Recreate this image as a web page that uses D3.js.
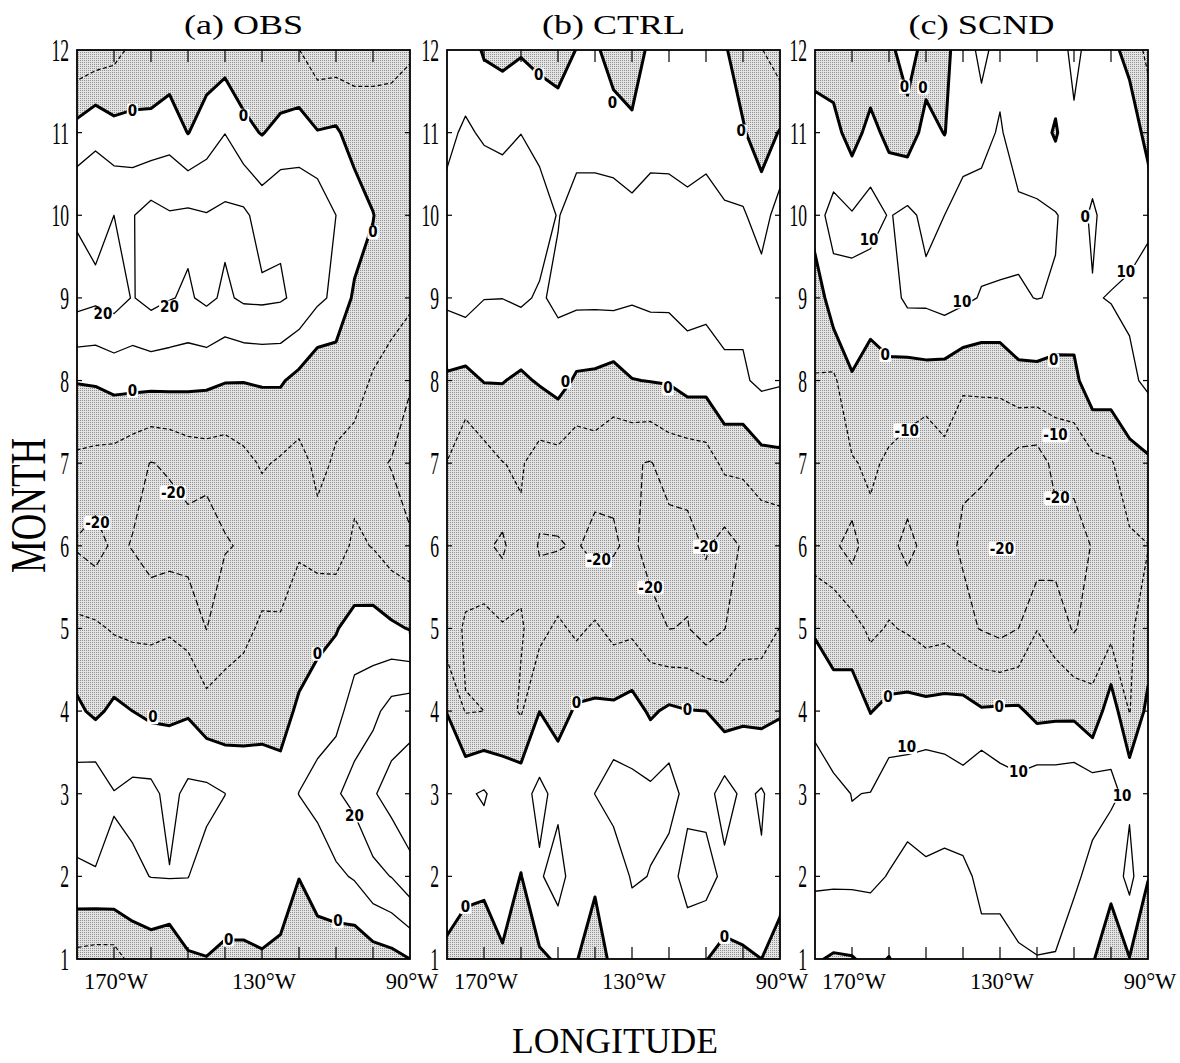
<!DOCTYPE html>
<html>
<head>
<meta charset="utf-8">
<script src="https://cdn.jsdelivr.net/npm/d3@7"></script>
<style>
  body { margin: 0; background: #fff; }
</style>
</head>
<body>
<svg id="chart" width="1180" height="1063"></svg>
<script>
// grid: longitude columns (deg W) and month rows
const LONS = [180, 175, 170, 165, 160, 155, 150, 145, 140, 135, 130, 125, 120, 115, 110, 105, 100, 95, 90];
const MONTHS = [1, 2, 3, 4, 5, 6, 7, 8, 9, 10, 11, 12];
const LEVELS = [-30, -20, -10, 0, 10, 20, 30];
const LON_TICKS = [170, 160, 150, 140, 130, 120, 110, 100];
const LON_LABELS = [[170, '170°W'], [130, '130°W'], [90, '90°W']];

// (a) OBS, one row per month (1..12), one value per longitude
const OBS = [
  [-13, -14, -14, -7, -5.6, -7.6, -1.2, -0.2, -1.5, -1.8, -0.7, -2.1, -3, -6.4, -6.3, -7.6, -4.6, -3.1, 0],
  [8.5, 9, 9.2, 8.3, 10.2, 10.5, 10.2, 6.1, 5, 6, 5, 5, 0.1, 5.9, 8, 11, 17.2, 20.3, 26.9],
  [15, 17.5, 10.3, 12.5, 12.6, 7, 12.5, 12.6, 10.1, 4.1, 4.5, 4.3, 10.2, 12.2, 19, 23, 29, 34, 37],
  [1.8, -2, 2.2, 0, -2, -1.5, -1.2, -6.2, -7, -3, -3, -4, 1.8, 7, 6, 15.4, 17.2, 24, 25.7],
  [-7.6, -8.4, -11, -12, -12, -11, -13.4, -20.2, -13, -13, -8.1, -8.25, -6, -4, -0.5, 3.1, 4.1, 1.7, -0.5],
  [-21, -24, -18, -20.5, -25, -24, -24, -28, -20.8, -19, -17, -17, -11, -13, -15, -8, -10.5, -15, -17.5],
  [-12, -13, -14, -17, -20.3, -19, -16, -15, -15.6, -12.7, -9, -11.1, -13, -8, -11, -14, -18, -20.5, -28],
  [0.5, 1, 3, 3, 3, 3, 2.5, 2, 0.5, 0.3, 0.8, 1, -2.9, -8, -7, -6, -11, -13, -18.5],
  [24, 22, 24, 19.5, 23, 20.5, 18.9, 22, 18.5, 21.5, 21.8, 21, 18, 12, 8, -1.7, -3, -7, -8],
  [19, 17, 20, 19.5, 23.8, 20.8, 22, 20.5, 22, 22, 15.9, 18.6, 17.9, 17.5, 10, 5.6, 0.3, -5, -5],
  [3.7, 8, 3.3, 3, 2.9, 6, -0.3, 5, 9.8, 2.6, -0.5, 3, 4.3, 0.5, 1.4, -4.4, -6.2, -7, -5],
  [-18, -16, -13, -8, -7, -7, -6, -6, -5, -7, -9.8, -9.8, -9.8, -16, -15.6, -14.4, -13, -12, -11]
];

// (b) CTRL
const CTRL = [
  [-1.6, -6.8, -9.8, -1.2, -5, -1.5, 1, 0.5, -6, 3, 2, 5, 5, 1, 0.3, -2.8, -1, 0, -3.1],
  [4, 4, 4, 5, -0.3, 8.65, 15, 3, 2, 1.6, 11.3, 9.7, 4.7, 15.5, 14, 7.5, 5, 9, 3],
  [6, 8.6, 11, 5, 6.5, 12.5, 7, 6, 10.1, 15.6, 12.6, 12, 14.9, 6, 6.5, 14.1, 8, 11, 5],
  [-0.2, -10.5, -10, -6, -11, -0.1, -4, 1.3, 1.6, 2, 4, -1.4, 1.7, 0.3, 0, -4.7, -1.8, -3, -0.5],
  [-16, -8.5, -6.6, -9, -9.4, -13, -8.1, -12, -8.5, -13, -12, -16, -20.2, -19.5, -25, -20.2, -15, -14, -9.8],
  [-16, -16, -18, -22, -11.8, -21, -20.8, -19, -23.4, -21, -18, -24, -23.7, -23, -19, -23.6, -19, -18, -16.9],
  [-10.2, -18, -14, -10.2, -9, -14.3, -13.9, -17, -15.1, -18, -19.3, -20.5, -16.3, -16, -14.6, -7.8, -7.8, -3.4, -2.5],
  [-1.5, -3, 0.4, 0.4, -1.7, 1, 4, -1.5, -2, -3.7, -0.3, 0.3, 0.8, 4, 3.6, 8.8, 8.8, 12, 11],
  [12, 14, 10.2, 10.1, 11.5, 8.9, 11.9, 12, 12, 12.5, 11, 12, 12, 14, 13, 12, 12, 15, 14],
  [12, 12, 15, 16, 15, 14.3, 9.5, 14.2, 14.2, 14.7, 13, 14.2, 14, 12.6, 12, 10.9, 11.1, 5.6, 14.6],
  [8.5, 11, 9.1, 7.8, 9.9, 7, 5.9, 6, 6, 4.3, 1.9, 6, 6, 5, 8, 6, 0.95, -5, 0.7],
  [5, 6, -1.2, -2.7, -1, -3, -5, 0.3, 1.5, -4, -5, 2, 2, 2, 2, 1, -5, -9.5, -16.3]
];

// (c) SCND
const SCND = [
  [0.9, -1, -0.5, 2, -0.3, 4, 5, 5, 5, 8.8, 7.6, 9, 9.8, 9.5, 1.5, 1, -8, -0.3, -5],
  [12, 12, 12, 12, 9.55, 5.7, 7.5, 6.9, 9, 11, 12, 14, 14, 15, 13, 5.3, 4, 13, 0.3],
  [15, 12.5, 9.8, 10.2, 16, 16, 18, 16, 13, 20, 15, 13, 17, 16.6, 17.6, 16, 11.5, 8.2, 5],
  [7, 2.6, 6, -0.3, 2.3, 3.3, 3, 3.5, 4.3, 1, 1.5, 1.5, -3, -2.3, -2.4, -7.6, 6.4, -10.5, 3],
  [-1, -2.6, -6, -12, -9.2, -11, -14, -13, -17.7, -20.5, -23, -20, -10.2, -14.5, -21, -15, -13.6, -11, -7],
  [-15, -18, -24, -13.3, -17, -23, -17, -18, -21, -25, -26, -20.5, -27, -24, -24, -19.5, -18, -12, -10.2],
  [-13, -15, -11, -8, -11.9, -13.8, -18, -12.4, -19, -18, -20, -24, -24.8, -17, -17, -12.7, -11, -3.4, -1.5],
  [-10.2, -12, -1.15, -5, -2.45, -4.7, -4, -4.9, -8, -8, -7.3, -3.1, -3.05, -4.3, -2.7, 6.9, 6, 8, 12],
  [-8, 7, 9.3, 5, 6, 12, 12, 14, 12, 9.35, 8.6, 9.2, 10.2, 9.46, 6, 9.57, 10.3, 11.7, 12],
  [7, 12.6, 10.75, 13.4, 9.5, 12, 8, 10, 13.5, 14, 15, 12, 11.25, 10.5, 7, 11, 7, 6, 9],
  [6, 3.4, -4.2, 3.4, -3, -5, 3.3, -0.3, 6, 7, 11, 5, 5, -1.2, 8.7, 6, 5, 8.9, -5],
  [-6, -6, -10, -8, -3, 6, -5, -3, 6, 12, 7, 6, 6, 6, 12, 7, 4, -5, -12]
];

// contour labels: [longitude, month, text]
const OBS_LABELS = [
  [165, 11.27, '0'], [135, 11.21, '0'], [100, 9.8, '0'], [173, 8.81, '20'], [155, 8.89, '20'],
  [165, 7.88, '0'], [154, 6.65, '-20'], [174.5, 6.28, '-20'], [115, 4.7, '0'], [159.5, 3.93, '0'],
  [105, 2.74, '20'], [139, 1.24, '0'], [109.5, 1.46, '0']
];
const CTRL_LABELS = [
  [155.2, 11.7, '0'], [135.3, 11.36, '0'], [100.5, 11.02, '0'], [148, 7.99, '0'], [120.3, 7.91, '0'],
  [110, 5.99, '-20'], [139, 5.83, '-20'], [125, 5.5, '-20'], [145, 4.1, '0'], [115, 4.02, '0'],
  [175, 1.63, '0'], [105, 1.27, '0']
];
const SCND_LABELS = [
  [155.8, 11.56, '0'], [150.8, 11.55, '0'], [165.4, 9.7, '10'], [140.3, 8.96, '10'], [107, 9.99, '0'],
  [96, 9.32, '10'], [161, 8.31, '0'], [115.5, 8.25, '0'], [155.2, 7.4, '-10'], [115, 7.34, '-10'],
  [114.5, 6.58, '-20'], [129.5, 5.97, '-20'], [160.3, 4.18, '0'], [130.2, 4.06, '0'], [155.2, 3.57, '10'],
  [125, 3.27, '10'], [97, 2.98, '10']
];

const panels = [
  { title: '(a) OBS', titleW: 119, rows: OBS, labels: OBS_LABELS, x0: 77 },
  { title: '(b) CTRL', titleW: 143, rows: CTRL, labels: CTRL_LABELS, x0: 447 },
  { title: '(c) SCND', titleW: 146, rows: SCND, labels: SCND_LABELS, x0: 815 }
];

const W = 333, TOP = 50, BOTTOM = 959;
const SERIF = '"Liberation Serif", "DejaVu Serif", serif';
const NARROW = '"Liberation Sans Narrow", "DejaVu Sans Condensed", "Arial Narrow", sans-serif';

const svg = d3.select('#chart');
const defs = svg.append('defs');
const pat = defs.append('pattern')
  .attr('id', 'stipple')
  .attr('width', 2).attr('height', 2)
  .attr('patternUnits', 'userSpaceOnUse');
pat.append('rect').attr('width', 2).attr('height', 2).attr('fill', '#e4e4e4');
pat.append('rect').attr('width', 1).attr('height', 1).attr('fill', '#909090');

const y = d3.scaleLinear().domain([1, 12]).range([BOTTOM, TOP]);
const contours = d3.contours().size([LONS.length, MONTHS.length]).thresholds(LEVELS);

const lineStyle = (v) => {
  if (v === 0) return { w: 3, dash: null };
  if (v > 0) return { w: 1.3, dash: null };
  return { w: 1.2, dash: v <= -20 ? '6,3' : '4,2.5' };
};

panels.forEach((p, i) => {
  const x = d3.scaleLinear().domain([LONS[0], LONS[LONS.length - 1]]).range([p.x0, p.x0 + W]);
  const step = LONS[0] - LONS[1];
  const proj = d3.geoTransform({
    point(px, py) {
      this.stream.point(x(LONS[0] - (px - 0.5) * step), y(py + 0.5));
    }
  });
  const path = d3.geoPath(proj);
  const values = p.rows.flat();

  defs.append('clipPath').attr('id', `clip${i}`)
    .append('rect')
    .attr('x', p.x0).attr('y', TOP)
    .attr('width', W).attr('height', BOTTOM - TOP);

  const g = svg.append('g').attr('clip-path', `url(#clip${i})`);

  // negative values shaded, the rest white
  g.append('rect')
    .attr('x', p.x0).attr('y', TOP)
    .attr('width', W).attr('height', BOTTOM - TOP)
    .attr('fill', 'url(#stipple)');
  g.append('path')
    .attr('d', path(contours.contour(values, 0)))
    .attr('fill', '#fff');

  contours(values).forEach(c => {
    if (!c.coordinates.length) return;
    const s = lineStyle(c.value);
    g.append('path')
      .attr('d', path(c))
      .attr('fill', 'none')
      .attr('stroke', '#000')
      .attr('stroke-width', s.w)
      .attr('stroke-linejoin', 'round')
      .attr('stroke-dasharray', s.dash);
  });

  // contour labels
  p.labels.forEach(([lon, month, txt]) => {
    const lg = g.append('g').attr('transform', `translate(${x(lon)},${y(month)})`);
    const bg = lg.append('rect').attr('fill', '#fff');
    const t = lg.append('text')
      .attr('text-anchor', 'middle')
      .attr('dy', '0.36em')
      .attr('font-family', NARROW)
      .attr('font-size', 15)
      .attr('font-weight', 'bold')
      .text(txt);
    const b = t.node().getBBox();
    bg.attr('x', b.x - 1).attr('y', b.y + 2)
      .attr('width', b.width + 2).attr('height', b.height - 4)
      .attr('rx', 2);
  });

  // frame and ticks
  const axes = svg.append('g').attr('stroke', '#000');
  LON_TICKS.forEach(lon => {
    axes.append('line').attr('x1', x(lon)).attr('x2', x(lon)).attr('y1', TOP).attr('y2', TOP + 12).attr('stroke-width', 1.2);
    axes.append('line').attr('x1', x(lon)).attr('x2', x(lon)).attr('y1', BOTTOM).attr('y2', BOTTOM - 12).attr('stroke-width', 1.2);
  });
  MONTHS.slice(1, -1).forEach(m => {
    axes.append('line').attr('x1', p.x0).attr('x2', p.x0 + 5).attr('y1', y(m)).attr('y2', y(m)).attr('stroke-width', 1.2);
    axes.append('line').attr('x1', p.x0 + W).attr('x2', p.x0 + W - 5).attr('y1', y(m)).attr('y2', y(m)).attr('stroke-width', 1.2);
  });
  axes.append('rect')
    .attr('x', p.x0).attr('y', TOP)
    .attr('width', W).attr('height', BOTTOM - TOP)
    .attr('fill', 'none').attr('stroke-width', 1.8);

  // month labels (tall, narrow)
  MONTHS.forEach(m => {
    svg.append('text')
      .attr('transform', `translate(${p.x0 - 8},${y(m) + 11}) scale(0.55,1)`)
      .attr('text-anchor', 'end')
      .attr('font-family', SERIF)
      .attr('font-size', 32)
      .text(m);
  });

  // longitude labels
  LON_LABELS.forEach(([lon, txt]) => {
    svg.append('text')
      .attr('x', x(lon) + 2).attr('y', 989)
      .attr('text-anchor', 'middle')
      .attr('font-family', SERIF)
      .attr('font-size', 22.5)
      .text(txt);
  });

  // panel title
  svg.append('text')
    .attr('x', p.x0 + W / 2 - p.titleW / 2).attr('y', 34)
    .attr('font-family', SERIF)
    .attr('font-size', 27)
    .attr('textLength', p.titleW)
    .attr('lengthAdjust', 'spacingAndGlyphs')
    .text(p.title);
});

svg.append('text')
  .attr('transform', 'translate(45,573) rotate(-90)')
  .attr('font-family', SERIF)
  .attr('font-size', 50)
  .attr('textLength', 135)
  .attr('lengthAdjust', 'spacingAndGlyphs')
  .text('MONTH');

svg.append('text')
  .attr('x', 512).attr('y', 1053)
  .attr('font-family', SERIF)
  .attr('font-size', 36)
  .attr('textLength', 206)
  .attr('lengthAdjust', 'spacingAndGlyphs')
  .text('LONGITUDE');
</script>
</body>
</html>
